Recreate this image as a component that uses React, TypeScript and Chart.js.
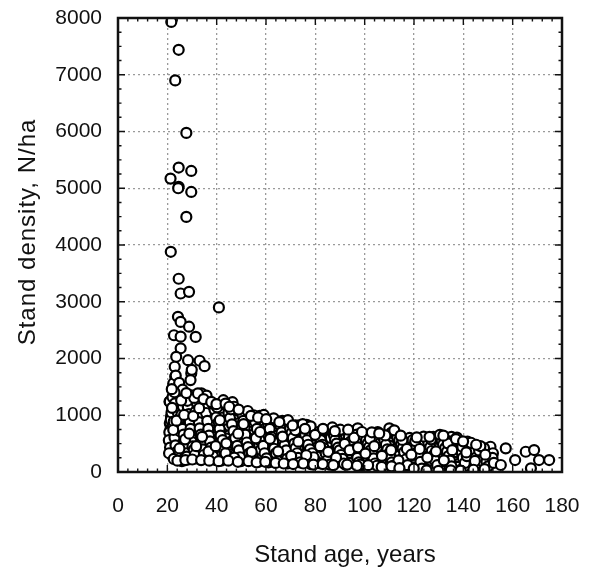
import React, { useEffect, useRef } from "react";
import { Chart, registerables } from "chart.js";

Chart.register(...registerables);

const X_TICKS = [0, 20, 40, 60, 80, 100, 120, 140, 160, 180];
const Y_TICKS = [0, 1000, 2000, 3000, 4000, 5000, 6000, 7000, 8000];
const X_TITLE = "Stand age, years";
const Y_TITLE = "Stand density, N/ha";

// [stand age (years), stand density (N/ha)]
const highDensityOutliers: [number, number][] = [
  [21.6, 7930], [24.6, 7440], [23.2, 6900], [27.7, 5975], [24.6, 5365],
  [29.7, 5305], [21.3, 5170], [24.6, 5025], [24.4, 5000], [29.7, 4935],
  [27.7, 4495], [21.4, 3880], [24.6, 3405], [25.4, 3145], [28.8, 3175],
  [40.9, 2900], [24.3, 2735], [25.4, 2645], [28.8, 2560], [22.7, 2410],
  [31.5, 2380], [25.4, 2385], [25.4, 2180], [23.6, 2030], [28.4, 1970],
  [33.1, 1960], [35.1, 1865], [23.0, 1855], [29.7, 1740], [29.9, 1800],
  [23.2, 1680], [29.4, 1620], [23.2, 1500], [24.0, 1355], [20.9, 1240],
  [27.0, 1325], [33.8, 1385], [35.1, 1280],
];

const youngStands: [number, number][] = [
  [21, 1240], [21.5, 980], [21, 860], [21.3, 760], [22, 690], [21.6, 600],
  [21.2, 520], [22.3, 450], [21.8, 380], [22.5, 330], [23, 280], [21.4, 920],
  [22.8, 1100], [23.5, 1010], [22.2, 810], [23.2, 720], [24, 650], [23.6, 560],
  [24.4, 490], [23.8, 420], [24.6, 360], [25, 300], [24.2, 250], [22.7, 1160],
  [24.8, 1220], [23.9, 1330], [24.5, 1450], [22.4, 1560], [23.4, 1700], [24.1, 1260],
  [25.2, 1120], [25, 980], [25.5, 860], [24.7, 780], [25.8, 700], [25.3, 610],
  [24.9, 540], [25.6, 470], [26, 400], [25.4, 340], [26.2, 230], [25.9, 190],
  [26.5, 1300], [27, 1200], [27.5, 1080], [28, 950], [26.8, 880], [27.3, 800],
  [28.4, 720], [27.8, 640], [26.4, 580], [28.8, 520], [27.1, 460], [29.2, 400],
  [28.1, 350], [26.7, 300], [29.5, 260], [28.6, 220],
  [29.8, 1350], [30.3, 1240], [31, 1150], [30.6, 1040], [31.5, 930], [30, 860],
  [31.8, 790], [32.3, 700], [30.9, 630], [32.6, 560], [31.2, 500], [33, 440],
  [32, 380], [30.4, 330], [33.4, 290], [31.6, 240],
  [33.5, 1330], [34, 1210], [34.6, 1100], [33.2, 1020], [35, 960], [34.3, 880],
  [35.4, 820], [33.8, 760], [34.9, 680], [35.6, 610], [34.2, 540], [36, 480],
  [35.2, 420], [34.5, 360], [36.4, 310], [35.8, 260],
];

const middleStands: [number, number][] = [
  [36.5, 1180], [37.2, 1090], [38, 1000], [37.6, 930], [38.6, 870], [39, 800],
  [37.9, 740], [39.5, 680], [38.3, 620], [40, 560], [39.2, 500], [40.6, 450],
  [38.8, 400], [41, 340], [40.3, 290], [37.4, 250], [39.7, 210],
  [41.5, 1200], [42.2, 1120], [43, 1040], [42.6, 960], [44, 900], [43.4, 830],
  [44.6, 760], [42, 700], [45.2, 650], [43.8, 590], [45.6, 530], [42.8, 470],
  [46, 420], [44.3, 370], [46.5, 320], [43.2, 270], [45, 230], [41.8, 200],
  [46.4, 1230], [47, 1150], [47.8, 1060], [48.5, 990], [47.3, 920], [49, 860],
  [48.2, 800], [49.6, 740], [47.6, 680], [50, 620], [48.8, 560], [50.5, 500],
  [49.3, 440], [51, 390], [48, 330], [50.2, 280], [51.5, 230], [49.8, 190],
  [51.8, 1000], [52.5, 940], [53.2, 880], [52, 820], [54, 770], [53.5, 710],
  [54.8, 660], [52.8, 600], [55.3, 550], [54.3, 500], [56, 450], [53, 400],
  [55.7, 350], [52.3, 300], [56.5, 260], [54.6, 210], [57, 180],
  [57.5, 990], [58, 930], [58.8, 870], [57.8, 810], [59.5, 760], [58.4, 700],
  [60, 650], [59.2, 590], [60.7, 540], [57.2, 490], [61.3, 440], [59.8, 390],
  [61.8, 340], [58.6, 290], [62.3, 240], [60.4, 200], [61, 170],
  [62, 900], [62.8, 850], [63.5, 790], [62.5, 740], [64.2, 690], [63.2, 640],
  [65, 590], [63.8, 540], [65.5, 490], [64.6, 440], [66, 390], [62.6, 340],
  [66.4, 300], [64.4, 250], [65.2, 200], [63.5, 170],
  [66.6, 900], [67.3, 860], [68, 800], [67, 750], [68.6, 700], [69.4, 650],
  [67.7, 600], [70, 560], [68.3, 510], [70.7, 470], [69, 420], [71.3, 380],
  [67.5, 330], [71.8, 290], [69.7, 250], [72.3, 210], [70.4, 170], [68.8, 150],
  [72, 820], [72.8, 780], [73.6, 820], [73.2, 720], [74.5, 680], [73.9, 630],
  [75, 590], [72.5, 540], [75.6, 500], [74.2, 460], [76.2, 420], [73.4, 380],
  [76.8, 340], [74.8, 300], [77.4, 260], [75.4, 220], [76, 180], [78, 140],
  [76.5, 830], [77.2, 760], [78, 720], [77.7, 670], [78.8, 630], [79.5, 590],
  [78.3, 550], [80, 510], [79, 470], [80.6, 430], [77, 390], [81.2, 350],
  [79.8, 310], [81.7, 270], [78.5, 230], [80.3, 190], [82, 150],
];

const matureStands: [number, number][] = [
  [82.5, 720], [83.2, 690], [84, 660], [83.6, 620], [84.8, 590], [85.5, 700],
  [86.2, 650], [85, 560], [86.8, 530], [84.4, 500], [87.5, 470], [85.8, 440],
  [88.2, 410], [83.8, 380], [88.8, 350], [86.5, 320], [89.4, 290], [84.9, 260],
  [87.2, 230], [90, 200], [88.5, 170], [85.3, 140],
  [89, 720], [89.8, 690], [90.6, 650], [91.4, 700], [90.2, 610], [92, 580],
  [91, 550], [92.8, 520], [90.8, 490], [93.5, 460], [91.8, 430], [94.2, 400],
  [92.5, 370], [95, 340], [93.2, 310], [95.6, 280], [91.5, 250], [94.6, 220],
  [96.2, 190], [93.8, 160], [92.2, 130],
  [95.4, 690], [96.5, 740], [97.2, 770], [96.8, 660], [97.8, 620], [98.5, 590],
  [97.4, 560], [99.2, 530], [98, 500], [99.8, 470], [96, 440], [100.4, 410],
  [98.8, 380], [101, 350], [97.6, 320], [99.5, 290], [101.5, 260], [100, 230],
  [98.3, 200], [100.8, 170], [102, 140], [99, 120],
  [102.5, 640], [103.2, 600], [104, 570], [103.6, 540], [104.8, 510], [105.5, 620],
  [106.2, 580], [105, 480], [106.8, 450], [104.4, 420], [107.5, 390], [105.8, 360],
  [108.2, 330], [103.8, 300], [108.8, 270], [106.5, 240], [109.4, 210], [104.9, 180],
  [107.2, 150], [110, 120], [106, 110],
  [109, 640], [110, 770], [110.8, 690], [111.5, 610], [110.5, 580], [112.2, 550],
  [111, 520], [112.8, 490], [110.2, 460], [113.5, 430], [111.8, 400], [114.2, 370],
  [112.5, 340], [115, 310], [113.2, 280], [115.6, 250], [111.5, 220], [114.6, 190],
  [116.2, 160], [113.8, 130], [112.2, 110], [115, 90],
  [116, 580], [116.8, 550], [117.5, 520], [118.2, 600], [117.2, 490], [118.8, 460],
  [119.5, 430], [118.4, 400], [120, 370], [117.8, 340], [120.6, 310], [116.5, 280],
  [121.2, 250], [119, 220], [121.8, 190], [118, 160], [120.3, 130], [117, 100],
  [119.6, 80], [121.5, 50],
];

const oldStands: [number, number][] = [
  [122, 560], [122.8, 530], [123.5, 500], [123, 470], [124.2, 440], [125, 410],
  [123.8, 380], [125.6, 350], [124.6, 320], [126.2, 290], [122.5, 260], [126.8, 230],
  [124, 200], [127.4, 170], [125.3, 140], [123.3, 110], [126, 80], [124.8, 50],
  [127, 30],
  [127.8, 620], [128.5, 590], [129.2, 560], [128.2, 530], [130, 500], [129.6, 470],
  [130.8, 440], [128.8, 410], [131.5, 380], [130.3, 350], [132, 320], [129, 290],
  [132.6, 260], [131, 230], [133.2, 200], [130.6, 170], [132.3, 140], [129.8, 110],
  [131.8, 80], [128.4, 50], [133, 30],
  [133.8, 600], [134.5, 570], [135.2, 620], [134.2, 540], [136, 510], [135.6, 480],
  [136.8, 450], [134.8, 420], [137.5, 390], [136.3, 360], [138, 330], [135, 300],
  [138.6, 270], [137, 240], [139.2, 210], [136.6, 180], [138.3, 150], [135.8, 120],
  [137.8, 90], [134.4, 60], [139, 40], [136.2, 20],
  [140, 460], [141.7, 534], [140.8, 420], [141.5, 380], [142.3, 440], [143, 350],
  [142, 310], [143.8, 400], [144.4, 445], [145, 360], [144, 280], [145.8, 320],
  [146.5, 250], [145.3, 210], [147.2, 300], [146.2, 170], [147.8, 380], [148.5, 230],
  [149.2, 330], [148, 140], [149.8, 270], [150.5, 417], [151, 445], [150.6, 270],
  [151.5, 200], [152, 330], [143.2, 230], [141, 190], [142.6, 150], [144.8, 110],
  [141.8, 70], [146.8, 90], [143.6, 60], [145.6, 40], [140.4, 100],
];

const additionalStands: [number, number][] = [
  [20.8, 700], [20.6, 560], [21.1, 430], [21.7, 1050], [22.1, 1320], [22.6, 890],
  [22.9, 610], [23.3, 470], [23.7, 350], [23.1, 1210], [24.3, 1040], [24.7, 930],
  [24.4, 820], [25.1, 720], [25.7, 1010], [26.3, 1160], [26.1, 760], [26.6, 660],
  [26.9, 520], [27.4, 410], [27.6, 330], [27.9, 270], [28.3, 1140], [28.7, 1020],
  [29.1, 880], [29.4, 760], [29.7, 620], [29.9, 530], [30.2, 450], [30.7, 390],
  [31.1, 300], [31.4, 1060], [32, 1220], [32.4, 1000], [32.8, 880], [33.1, 770],
  [33.6, 660], [33.9, 480], [34.4, 400], [34.8, 300], [35.3, 1180], [35.7, 1040],
  [36.2, 900], [36.6, 760], [36.9, 640], [37.3, 540], [37.7, 430], [38.1, 340],
  [38.5, 280], [39.1, 1100], [39.8, 960], [40.2, 1140], [40.8, 880], [41.2, 760],
  [41.6, 640], [42.4, 560], [42.9, 380], [43.6, 330], [44.2, 1160], [44.8, 1040],
  [45.4, 950], [46.2, 840], [46.8, 720], [47.5, 600], [48.3, 460], [49, 380],
  [49.5, 260], [50.3, 1020], [50.8, 900], [51.3, 780], [51.6, 660], [52.2, 520],
  [52.7, 440], [53.3, 330], [53.8, 250], [55, 1000], [55.6, 880], [56.3, 760],
  [56.8, 640], [57.4, 560], [57.9, 390], [58.9, 460], [59.4, 330], [60.2, 240],
  [60.8, 860], [61.5, 760], [62.1, 620], [62.9, 530], [63.3, 410], [64, 330],
  [64.8, 190], [65.8, 820], [66.3, 700], [66.9, 560], [67.5, 470], [68.2, 380],
  [68.5, 230], [69.3, 860], [69.8, 760], [70.3, 680], [70.9, 600], [71.5, 500],
  [72, 420], [72.6, 330], [73, 250], [73.8, 170], [74.4, 780], [75.2, 720],
  [75.9, 650], [76.6, 560], [77.1, 480], [77.8, 400], [78.7, 330], [79.3, 260],
  [80.8, 700], [81.4, 640], [82.2, 560], [82.8, 480], [83.4, 420], [84.2, 330],
  [84.7, 200], [85.9, 130], [86.3, 600], [87, 700], [87.6, 640], [88, 560],
  [88.6, 500], [89.2, 430], [89.8, 380], [90.4, 300], [91, 230], [91.6, 150],
  [92.4, 650], [93, 700], [93.6, 610], [94.4, 540], [95.2, 480], [95.8, 400],
  [96.4, 330], [97, 250], [97.6, 170], [98.2, 130], [99.6, 640], [100.6, 560],
  [101.2, 500], [101.8, 440], [102.4, 380], [103, 320], [103.6, 240], [104.2, 150],
  [105, 110], [105.8, 560], [106.6, 520], [107.4, 620], [108, 560], [108.6, 480],
  [109.2, 400], [109.8, 320], [110.4, 260], [111, 170], [111.6, 110], [112.6, 660],
  [113.2, 610], [114, 560], [114.8, 490], [115.4, 420], [116, 350], [116.6, 220],
  [117.4, 120], [118.6, 520], [119.4, 560], [120.2, 480], [120.8, 420], [121.4, 350],
  [122, 280], [122.6, 180], [123.2, 60], [124.2, 560], [125, 600], [125.8, 520],
  [126.6, 440], [127.2, 370], [128, 300], [128.6, 200], [129.4, 120], [130.4, 600],
  [131.2, 560], [131.8, 480], [132.6, 420], [133.4, 360], [134, 280], [134.6, 200],
  [135.2, 100], [136.4, 560], [137.2, 520], [137.8, 460], [138.6, 400], [139.4, 330],
  [139.8, 250], [140.6, 160], [141.4, 280], [142.8, 480], [143.4, 420], [144.2, 340],
  [145, 250], [145.8, 160], [146.4, 380], [147.4, 200], [148.4, 420], [149.4, 180],
  [150, 100], [151.8, 250], [152.4, 160],
];

const scatteredStands: [number, number][] = [
  [21.9, 1130], [22.4, 740], [23.7, 905], [20.7, 330], [24.9, 415], [26.8, 1005],
  [27.2, 575], [28.9, 675], [30.5, 985], [31.7, 455], [32.9, 1125], [34.1, 620],
  [35.9, 1345], [36.7, 365], [38.4, 1205], [39.6, 455], [41.3, 915], [42.7, 1265],
  [43.9, 505], [45.8, 1105], [47.1, 255], [48.7, 675], [50.9, 845], [52.6, 1075],
  [54.2, 355], [55.9, 595], [57.6, 705], [59.1, 1005], [61.6, 585], [63.1, 945],
  [64.9, 365], [66.7, 625], [68.9, 915], [70.2, 285], [71.9, 735], [73.1, 535],
  [74.9, 845], [76.3, 295], [78.1, 805], [79.9, 655], [81.9, 455], [83.5, 745],
  [85.2, 355], [86.9, 785], [88.4, 255], [90.1, 745], [91.9, 495], [93.9, 385],
  [95.7, 605], [97.3, 435], [98.9, 705], [100.3, 325], [102.1, 585], [103.9, 455],
  [105.3, 705], [107, 285], [108.4, 645], [110.7, 385], [112, 735], [113.7, 205],
  [115.3, 565], [117.1, 405], [118.9, 305], [120.5, 545], [122.3, 405], [123.9, 625],
  [125.4, 255], [126.9, 575], [128.9, 365], [130.5, 655], [132.1, 205], [133.7, 505],
  [135.5, 385], [137.4, 605], [139.6, 445], [141.2, 345], [143.1, 515], [144.7, 195],
  [146.9, 455], [148.9, 305], [24.8, 1570], [26.2, 1450], [22.9, 1405], [28.1, 1255],
  [30.9, 1305], [32.4, 1385], [25.6, 1260], [21.8, 1460], [27.7, 1390], [34.7, 1285],
  [37.8, 1235], [39.9, 1195], [43.6, 1205], [45.1, 1150], [48.9, 1100], [53.9, 990],
  [56.8, 960], [60.1, 930], [65.4, 880], [70.8, 820], [75.8, 760], [83.1, 760],
  [87.9, 720], [93.3, 745], [102.9, 700], [105.9, 680], [114.6, 640], [121.1, 610],
  [126.3, 620], [131.9, 640], [137, 580], [139.9, 540], [145.2, 480],
  [22.6, 230], [24.1, 200], [27.3, 210], [30.1, 220], [33.7, 210], [37, 200],
  [40.8, 190], [44.7, 200], [48.6, 180], [52.9, 190], [56.2, 170], [59.7, 180],
  [63.9, 160], [67.2, 150], [71, 140], [75.1, 150], [79.2, 130], [83, 140],
  [87.3, 120], [92.9, 130], [96.9, 110], [101.4, 120], [106.9, 90], [110.9, 100],
  [114.1, 70], [119.9, 60], [125.1, 30], [129.9, 20], [134.9, 30], [138.9, 25],
  [144.1, 40], [148.6, 50],
];

const oldestStands: [number, number][] = [
  [155.2, 123], [157.2, 417], [161, 211], [165.3, 357], [168.7, 387],
  [170.7, 211], [167.4, 65], [174.8, 211],
];

const FONT = '"Liberation Sans", Arial, Helvetica, sans-serif';

const framePlugin = {
  id: "frameAndTitles",
  afterDatasetsDraw(chart: any) {
    const { ctx, chartArea, scales } = chart;
    const { left, right, top, bottom } = chartArea;
    const xs = scales.x;
    const ys = scales.y;
    ctx.save();
    ctx.strokeStyle = "#111";
    ctx.lineWidth = 1.4;
    ctx.beginPath();
    for (let v = X_TICKS[0]; v <= X_TICKS[X_TICKS.length - 1]; v += 4) {
      const px = xs.getPixelForValue(v);
      const len = v % 20 === 0 ? 7 : 3.5;
      ctx.moveTo(px, bottom);
      ctx.lineTo(px, bottom - len);
      ctx.moveTo(px, top);
      ctx.lineTo(px, top + len);
    }
    for (let v = Y_TICKS[0]; v <= Y_TICKS[Y_TICKS.length - 1]; v += 250) {
      const py = ys.getPixelForValue(v);
      const len = v % 1000 === 0 ? 7 : 3.5;
      ctx.moveTo(left, py);
      ctx.lineTo(left + len, py);
      ctx.moveTo(right, py);
      ctx.lineTo(right - len, py);
    }
    ctx.stroke();
    ctx.lineWidth = 2.5;
    ctx.strokeRect(left, top, right - left, bottom - top);

    ctx.fillStyle = "#111";
    ctx.font = `24px ${FONT}`;
    ctx.textAlign = "center";
    ctx.textBaseline = "alphabetic";
    ctx.fillText(X_TITLE, (left + right) / 2 + 5, 562);
    ctx.translate(35, (top + bottom) / 2 - 13);
    ctx.rotate(-Math.PI / 2);
    try {
      (ctx as any).letterSpacing = "1px";
    } catch (e) {}
    ctx.fillText(Y_TITLE, 0, 0);
    ctx.restore();
  },
};

export default function App() {
  const canvasRef = useRef<HTMLCanvasElement | null>(null);

  useEffect(() => {
    if (!canvasRef.current) return;
    const toPoints = (arr: [number, number][]) => arr.map(([x, y]) => ({ x, y }));
    const allPoints = [
      ...toPoints(highDensityOutliers),
      ...toPoints(youngStands),
      ...toPoints(middleStands),
      ...toPoints(matureStands),
      ...toPoints(oldStands),
      ...toPoints(additionalStands),
      ...toPoints(scatteredStands),
      ...toPoints(oldestStands),
    ];
    const chart = new Chart(canvasRef.current, {
      type: "scatter",
      data: {
        datasets: [
          {
            label: "Stands",
            data: allPoints,
            pointRadius: 5,
            pointHoverRadius: 5,
            borderWidth: 2.2,
            borderColor: "#000",
            backgroundColor: "#fff",
          },
        ],
      },
      options: {
        animation: false,
        responsive: true,
        maintainAspectRatio: false,
        events: [],
        layout: { padding: { left: 0, right: 30, top: 18, bottom: 0 } },
        plugins: {
          legend: { display: false },
          tooltip: { enabled: false },
          title: { display: false },
        },
        scales: {
          x: {
            type: "linear",
            min: X_TICKS[0],
            max: X_TICKS[X_TICKS.length - 1],
            afterBuildTicks: (s: any) => {
              s.ticks = X_TICKS.map((v) => ({ value: v }));
            },
            afterFit: (s: any) => {
              s.height = 98;
              s.paddingLeft = 0;
              s.paddingRight = 0;
            },
            ticks: {
              color: "#111",
              font: { size: 21, family: FONT },
              padding: 22,
              maxRotation: 0,
              autoSkip: false,
              callback: (v: any) => String(v),
            },
            grid: { color: "#9a9a9a", lineWidth: 1.3, drawTicks: false },
            border: { display: false, dash: [2, 3] },
          },
          y: {
            type: "linear",
            min: Y_TICKS[0],
            max: Y_TICKS[Y_TICKS.length - 1],
            afterBuildTicks: (s: any) => {
              s.ticks = Y_TICKS.map((v) => ({ value: v }));
            },
            afterFit: (s: any) => {
              s.width = 118;
              s.paddingTop = 0;
              s.paddingBottom = 0;
            },
            ticks: {
              color: "#111",
              font: { size: 21, family: FONT },
              padding: 16,
              autoSkip: false,
              callback: (v: any) => String(v),
            },
            grid: { color: "#9a9a9a", lineWidth: 1.3, drawTicks: false },
            border: { display: false, dash: [2, 3] },
          },
        },
      },
      plugins: [framePlugin],
    });
    return () => chart.destroy();
  }, []);

  return (
    <div style={{ position: "fixed", left: 0, top: 0, width: 592, height: 570, background: "#fff" }}>
      <canvas ref={canvasRef} />
    </div>
  );
}
